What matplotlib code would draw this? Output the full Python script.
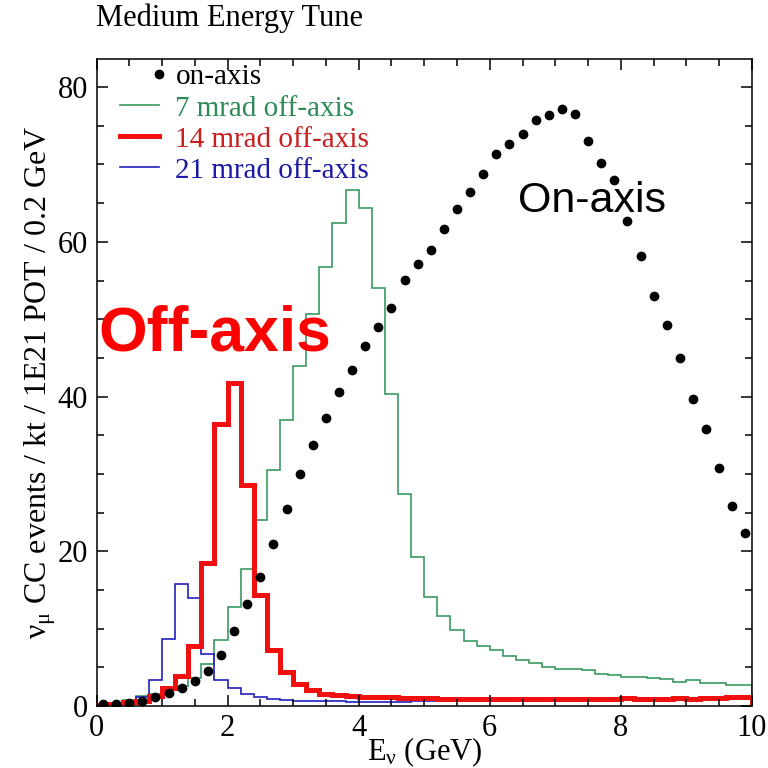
import numpy as np
import matplotlib
matplotlib.use("Agg")
import matplotlib.pyplot as plt
from matplotlib.lines import Line2D
from matplotlib.legend_handler import HandlerLine2D
from matplotlib.ticker import MultipleLocator

plt.rcParams['font.family'] = ['Liberation Serif', 'DejaVu Serif']
plt.rcParams['mathtext.fontset'] = 'custom'
plt.rcParams['mathtext.rm'] = 'Liberation Serif'
plt.rcParams['mathtext.it'] = 'Liberation Serif'
plt.rcParams['mathtext.bf'] = 'Liberation Serif:bold'

# ---- data (bins of 0.2 GeV from 0 to 10 GeV) ----
bin_width = 0.2
n_bins = 50

on_axis = [0.26, 0.26, 0.35, 0.6, 1.2, 1.64, 2.3, 3.24, 4.57, 6.6,
           9.7, 13.2, 16.7, 20.9, 25.5, 30.0, 33.7, 37.2, 40.6, 43.4,
           46.5, 49.0, 51.4, 55.1, 57.1, 58.9, 61.6, 64.2, 66.5, 68.8,
           71.3, 72.7, 73.9, 75.7, 76.4, 77.2, 76.5, 73.0, 70.2, 68.0,
           62.7, 58.2, 53.0, 49.3, 45.0, 39.7, 35.8, 30.8, 25.8, 22.4]

mrad7 = [0.2, 0.4, 0.8, 1.3, 1.6, 2.1, 2.6, 3.6, 5.4, 8.5,
         12.8, 17.7, 24.1, 30.5, 37.0, 44.0, 50.7, 56.7, 62.5, 66.7,
         64.4, 54.0, 40.3, 27.4, 19.2, 14.1, 11.6, 9.8, 8.4, 7.8,
         7.2, 6.5, 6.0, 5.5, 5.1, 4.8, 4.75, 4.6, 4.1, 4.0,
         3.7, 3.8, 3.6, 3.55, 3.15, 3.3, 3.0, 3.0, 2.7, 2.7]

mrad14 = [0.1, 0.3, 0.5, 0.7, 1.3, 2.3, 3.9, 7.8, 18.5, 36.4,
          41.7, 28.6, 14.4, 7.3, 4.4, 2.85, 2.1, 1.55, 1.4, 1.3,
          1.2, 1.15, 1.1, 1.05, 1.0, 1.0, 0.95, 0.95, 0.9, 0.9,
          0.9, 0.85, 0.85, 0.85, 0.9, 0.9, 0.9, 0.95, 0.95, 0.95,
          1.0, 0.95, 0.9, 0.95, 1.0, 0.95, 1.0, 1.05, 1.1, 1.1]

mrad21 = [0.1, 0.3, 0.6, 1.2, 3.4, 8.6, 15.8, 13.9, 6.7, 3.4,
          2.3, 1.5, 1.1, 0.87, 0.75, 0.7, 0.65, 0.6, 0.6, 0.55,
          0.55, 0.55, 0.55, 0.55, 0.6, 0.6, 0.6, 0.6, 0.6, 0.65,
          0.65, 0.65, 0.7, 0.7, 0.7, 0.75, 0.75, 0.8, 0.8, 0.85,
          0.85, 0.9, 0.95, 1.0, 1.0, 1.05, 1.1, 1.15, 1.2, 1.35]

labels = ["on-axis", "7 mrad off-axis", "14 mrad off-axis", "21 mrad off-axis"]
x_ticks = [0, 2, 4, 6, 8, 10]
y_ticks = [0, 20, 40, 60, 80]

edges = np.arange(n_bins + 1) * bin_width
centers = edges[:-1] + bin_width / 2

c_green = '#3a9a62'
c_red = '#f01010'
c_blue = '#2020c0'
t_green = '#2e8b57'
t_red = '#c81e1e'
t_blue = '#1a1aa8'


class RightMarkerHandler(HandlerLine2D):
    def create_artists(self, legend, orig_handle, xdescent, ydescent,
                       width, height, fontsize, trans):
        arts = super().create_artists(legend, orig_handle, xdescent, ydescent,
                                      width, height, fontsize, trans)
        for a in arts:
            a.set_markevery([2])
        return arts


fig = plt.figure(figsize=(7.68, 7.68), dpi=100)
W = H = 768
ax = fig.add_axes([96.5 / W, 1 - 706 / H, (752 - 96.5) / W, (706 - 58.5) / H])

ax.stairs(mrad7, edges, color=c_green, lw=1.2)
ax.stairs(mrad21, edges, color=c_blue, lw=1.2)
ax.stairs(mrad14, edges, color=c_red, lw=3.6)
ax.plot(centers, on_axis, 'o', color='black', ms=6, ls='none')

ax.set_xlim(0, 10)
ax.set_ylim(0, 83.7)
ax.set_xticks(x_ticks)
ax.set_yticks(y_ticks)
ax.xaxis.set_minor_locator(MultipleLocator(0.5))
ax.yaxis.set_minor_locator(MultipleLocator(5))
ax.tick_params(which='both', direction='in', top=True, right=True, labelsize=22, width=1.1)
ax.tick_params(which='major', length=8, pad=6)
ax.tick_params(which='minor', length=5)
for s in ax.spines.values():
    s.set_linewidth(1.1)

ax.set_xlabel(r'E$_{\nu}$ (GeV)', fontsize=22, labelpad=-6)
ax.set_ylabel(r'$\nu_{\mu}$ CC events / kt / 1E21 POT / 0.2 GeV', fontsize=23, labelpad=0)

fig.text(96 / W, 1 - 18 / H, 'Medium Energy Tune', fontsize=22, va='center', ha='left')

h_on = Line2D([], [], marker='o', color='black', ls='none', ms=6)
handles = [h_on,
           Line2D([], [], color=c_green, lw=1.2),
           Line2D([], [], color=c_red, lw=3.6),
           Line2D([], [], color=c_blue, lw=1.2)]
leg = ax.legend(handles, labels, loc='upper left',
                bbox_to_anchor=((120 - 96.5) / 655.5, 1 - (64 - 58.5) / 647.5),
                frameon=False, fontsize=21, handlelength=1.35, handletextpad=0.55,
                labelspacing=0.16, borderpad=0, borderaxespad=0, numpoints=1,
                handler_map={h_on: RightMarkerHandler(numpoints=1)})
for txt, col in zip(leg.get_texts(), ['black', t_green, t_red, t_blue]):
    txt.set_color(col)

ax.text(6.43, 63.8, 'On-axis', fontsize=31, family='Liberation Sans', color='black',
        ha='left', va='baseline')
ax.text(0.03, 46.0, 'Off-axis', fontsize=45, family='Liberation Sans', weight='bold',
        color='#ff0000', ha='left', va='baseline')

fig.savefig('out.png', dpi=100)
